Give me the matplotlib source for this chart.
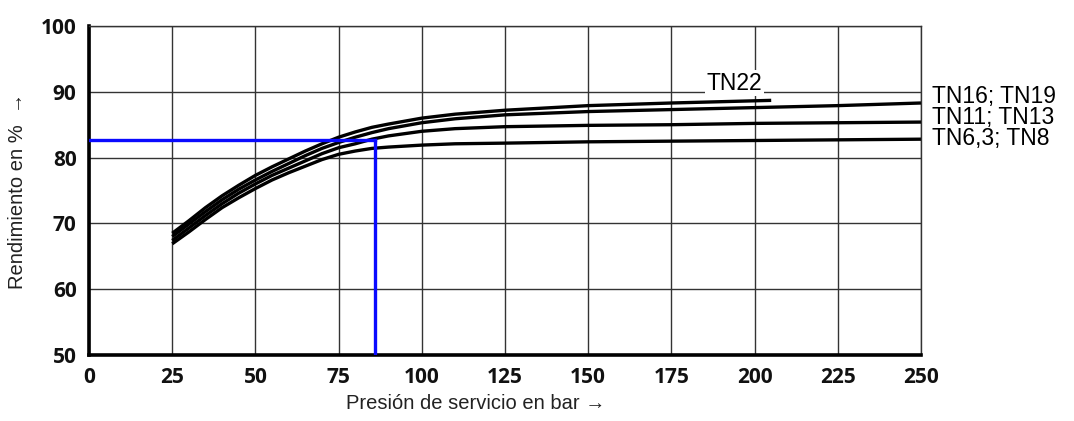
import matplotlib
matplotlib.use("Agg")
import matplotlib.pyplot as plt

# Data
pressure = [25, 30, 35, 40, 45, 50, 55, 60, 65, 70, 75, 80, 85, 90, 100, 110, 125, 150, 175, 200, 225, 250]
tn22 = [68.5, 70.4, 72.4, 74.2, 75.8, 77.3, 78.6, 79.8, 81.0, 82.1, 83.1, 83.9, 84.6, 85.1, 86.0, 86.6, 87.2, 87.9, 88.3, 88.7]
tn22_x = pressure[:19] + [205]
tn16_19 = [68.0, 69.9, 71.8, 73.6, 75.2, 76.6, 77.9, 79.1, 80.3, 81.4, 82.3, 83.1, 83.8, 84.4, 85.3, 85.9, 86.5, 87.0, 87.3, 87.6, 87.9, 88.3]
tn11_13 = [67.4, 69.3, 71.2, 73.0, 74.6, 76.0, 77.3, 78.4, 79.5, 80.6, 81.5, 82.1, 82.8, 83.3, 84.0, 84.4, 84.7, 84.9, 85.0, 85.2, 85.3, 85.4]
tn6_8 = [66.9, 68.7, 70.6, 72.4, 73.9, 75.3, 76.6, 77.7, 78.7, 79.7, 80.5, 81.0, 81.4, 81.6, 81.9, 82.1, 82.2, 82.4, 82.5, 82.6, 82.7, 82.8]
marker_x = 86
marker_y = 82.6
series_labels = ["TN22", "TN16; TN19", "TN11; TN13", "TN6,3; TN8"]
xticks = [0, 25, 50, 75, 100, 125, 150, 175, 200, 225, 250]
yticks = [50, 60, 70, 80, 90, 100]

fig = plt.figure(figsize=(10.74, 4.21), dpi=100)
ax = fig.add_axes([0.0829, 0.1568, 0.7746, 0.7814])
ax.set_xlim(0, 250)
ax.set_ylim(50, 100)

ax.set_xticks(xticks)
ax.set_yticks(yticks)
ax.grid(True, color="#333333", linewidth=1.0)
ax.set_axisbelow(True)
ax.tick_params(length=0, pad=9)
for lab in ax.get_xticklabels() + ax.get_yticklabels():
    lab.set_family("Open Sans")
    lab.set_fontweight("bold")
    lab.set_fontsize(15)
    lab.set_color("#111111")

for s in ["left", "bottom"]:
    ax.spines[s].set_linewidth(2.6)
    ax.spines[s].set_color("black")
for s in ["top", "right"]:
    ax.spines[s].set_linewidth(1.0)
    ax.spines[s].set_color("#333333")

lw = 2.4
ax.plot(tn22_x, tn22, color="black", lw=lw, solid_capstyle="butt", zorder=3)
ax.plot(pressure, tn16_19, color="black", lw=lw, solid_capstyle="butt", zorder=3)
ax.plot(pressure, tn11_13, color="black", lw=lw, solid_capstyle="butt", zorder=3)
ax.plot(pressure, tn6_8, color="black", lw=lw, solid_capstyle="butt", zorder=3)

# blue reading lines
ax.plot([0, marker_x], [marker_y, marker_y], color="#0a0aff", lw=2.4, zorder=4)
ax.plot([marker_x, marker_x], [50, marker_y], color="#0a0aff", lw=2.4, zorder=4)

lab_font = dict(family="Liberation Sans", fontsize=16.5, color="#000000")
ax.text(194, 91.3, series_labels[0], ha="center", va="center",
        bbox=dict(facecolor="white", edgecolor="none", pad=1.0), **lab_font)
ax.text(253.3, 86.1, "\n".join(series_labels[1:]), ha="left", va="center",
        linespacing=0.88, clip_on=False, **lab_font)

ax.set_xlabel("Presión de servicio en bar →", family="Liberation Sans", fontsize=14.5,
              color="#222222", labelpad=4)
ax.xaxis.set_label_coords(0.465, -0.12)
ax.set_ylabel("Rendimiento en %  →", family="Liberation Sans", fontsize=14.5,
              color="#222222", labelpad=10)

fig.savefig("out.png", dpi=100)
